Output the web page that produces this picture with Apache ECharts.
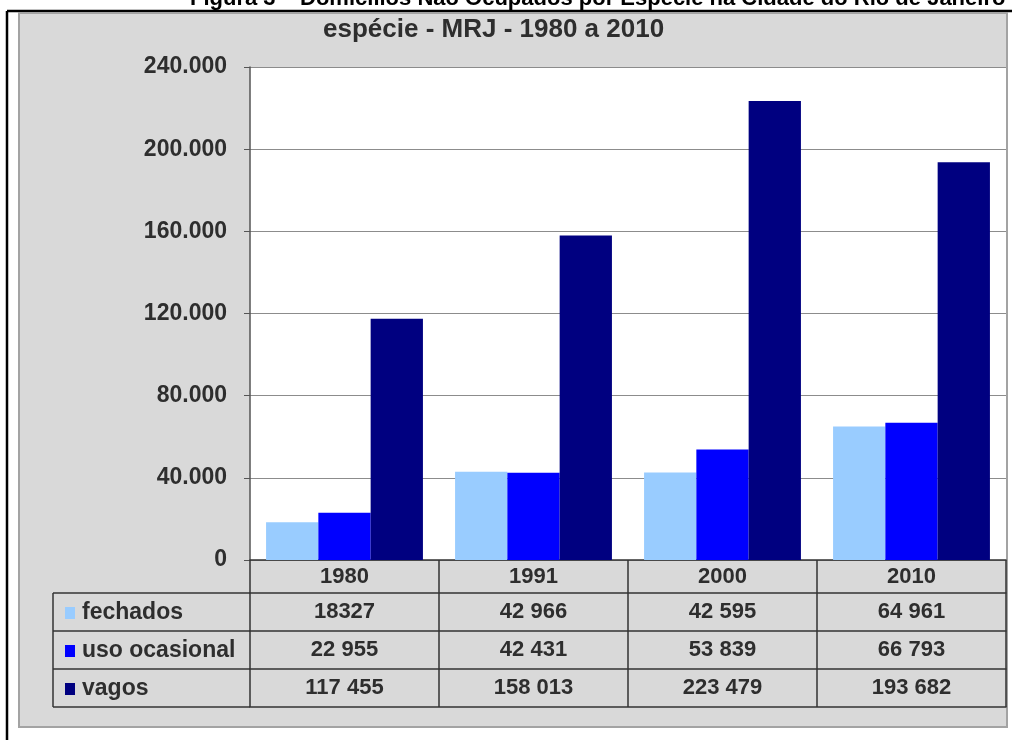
<!DOCTYPE html>
<html>
<head>
<meta charset="utf-8">
<script src="https://cdn.jsdelivr.net/npm/echarts@6/dist/echarts.min.js"></script>
<style>
  html, body { margin: 0; padding: 0; background: #fff; }
  #chart { width: 1012px; height: 740px; }
</style>
</head>
<body>
<div id="chart"></div>
<script>
// values as printed in the data table under the chart
const years = ['1980', '1991', '2000', '2010'];
const fechados = ['18327', '42 966', '42 595', '64 961'];
const usoOcasional = ['22 955', '42 431', '53 839', '66 793'];
const vagos = ['117 455', '158 013', '223 479', '193 682'];
const seriesNames = ['fechados', 'uso ocasional', 'vagos'];
const seriesColors = ['#99ccff', '#0000ff', '#000080'];

const toNum = s => Number(s.replace(/\s/g, ''));
const font = 'Liberation Sans, Arial, sans-serif';
const txt = '#2e2e2e';
const fs = 22;

// table geometry (header row + 3 rows)
const plotBottom = 560;
const headH = 33;
const rowH = 38;
const tableLeft = 53;
const axisLeft = 250;

const chart = echarts.init(document.getElementById('chart'));

const rows = [fechados, usoOcasional, vagos];
const xAxes = [{
  type: 'category',
  data: years,
  position: 'bottom',
  axisLine: { lineStyle: { color: '#333', width: 1.5 } },
  axisTick: { show: true, alignWithLabel: false, length: headH + rowH * 3, lineStyle: { color: '#333', width: 1.5 } },
  axisLabel: { margin: 6, color: txt, fontFamily: font, fontWeight: 'bold', fontSize: fs },
  splitLine: { show: false }
}];
rows.forEach((r, i) => {
  xAxes.push({
    type: 'category',
    data: r,
    position: 'bottom',
    offset: headH + rowH * i,
    axisLine: { lineStyle: { color: '#333', width: 1.5 } },
    axisTick: { show: false },
    axisLabel: { margin: 8, color: txt, fontFamily: font, fontWeight: 'bold', fontSize: fs },
    splitLine: { show: false }
  });
});
xAxes.push({
  type: 'category',
  data: years,
  position: 'bottom',
  offset: headH + rowH * 3,
  axisLine: { lineStyle: { color: '#333', width: 1.5 } },
  axisTick: { show: false },
  axisLabel: { show: false }
});

const rowLines = [];
for (let i = 0; i <= 3; i++) {
  const y = plotBottom + headH + rowH * i;
  rowLines.push({
    type: 'line',
    shape: { x1: tableLeft, y1: y, x2: axisLeft, y2: y },
    style: { stroke: '#333', lineWidth: 1.5 }
  });
}
rowLines.push({
  type: 'line',
  shape: { x1: tableLeft, y1: plotBottom + headH, x2: tableLeft, y2: plotBottom + headH + rowH * 3 },
  style: { stroke: '#333', lineWidth: 1.5 }
});

const options = {
  backgroundColor: '#fff',
  animation: false,
  title: [{
    text: 'Figura 3 – Domicílios Não Ocupados por Espécie na Cidade do Rio de Janeiro',
    left: 190,
    top: -12,
    padding: 0,
    textStyle: { color: '#000', fontFamily: font, fontWeight: 'bold', fontSize: 22 }
  }, {
    text: 'espécie - MRJ - 1980 a 2010',
    left: 323,
    top: 17,
    padding: 0,
    textStyle: { color: txt, fontFamily: font, fontWeight: 'bold', fontSize: 26 }
  }],
  legend: {
    data: seriesNames,
    orient: 'vertical',
    left: 65,
    top: plotBottom + headH + 8,
    padding: 0,
    itemGap: 14,
    itemWidth: 10,
    itemHeight: 12,
    icon: 'rect',
    selectedMode: false,
    textStyle: { color: txt, fontFamily: font, fontWeight: 'bold', fontSize: 23, lineHeight: 24, padding: [0, 0, 0, 2] }
  },
  graphic: [{
    type: 'line',
    z: -20,
    shape: { x1: 7, y1: 11, x2: 1012, y2: 11 },
    style: { stroke: '#000', lineWidth: 2.5 }
  }, {
    type: 'line',
    z: -20,
    shape: { x1: 7, y1: 11, x2: 7, y2: 740 },
    style: { stroke: '#000', lineWidth: 2.5 }
  }, {
    type: 'rect',
    z: -20,
    shape: { x: 19, y: 13, width: 988, height: 714 },
    style: { fill: '#d9d9d9', stroke: '#a3a3a3', lineWidth: 2 }
  }].concat(rowLines),
  grid: {
    left: axisLeft,
    right: 6,
    top: 67,
    bottom: 740 - plotBottom,
    show: true,
    backgroundColor: '#fff',
    borderWidth: 0
  },
  xAxis: xAxes,
  yAxis: {
    type: 'value',
    min: 0,
    max: 240000,
    interval: 40000,
    axisLine: { show: true, lineStyle: { color: '#555', width: 1.5 } },
    axisTick: { show: true, length: 6, lineStyle: { color: '#555' } },
    axisLabel: {
      margin: 23,
      color: txt,
      fontFamily: font,
      fontWeight: 'bold',
      fontSize: 23,
      formatter: v => String(v).replace(/\B(?=(\d{3})+(?!\d))/g, '.')
    },
    splitLine: { lineStyle: { color: '#8c8c8c', width: 1 } }
  },
  series: rows.map((r, i) => ({
    name: seriesNames[i],
    type: 'bar',
    xAxisIndex: 0,
    data: r.map(toNum),
    barGap: '0%',
    barCategoryGap: '17%',
    itemStyle: { color: seriesColors[i] }
  }))
};

chart.setOption(options);
</script>
</body>
</html>
